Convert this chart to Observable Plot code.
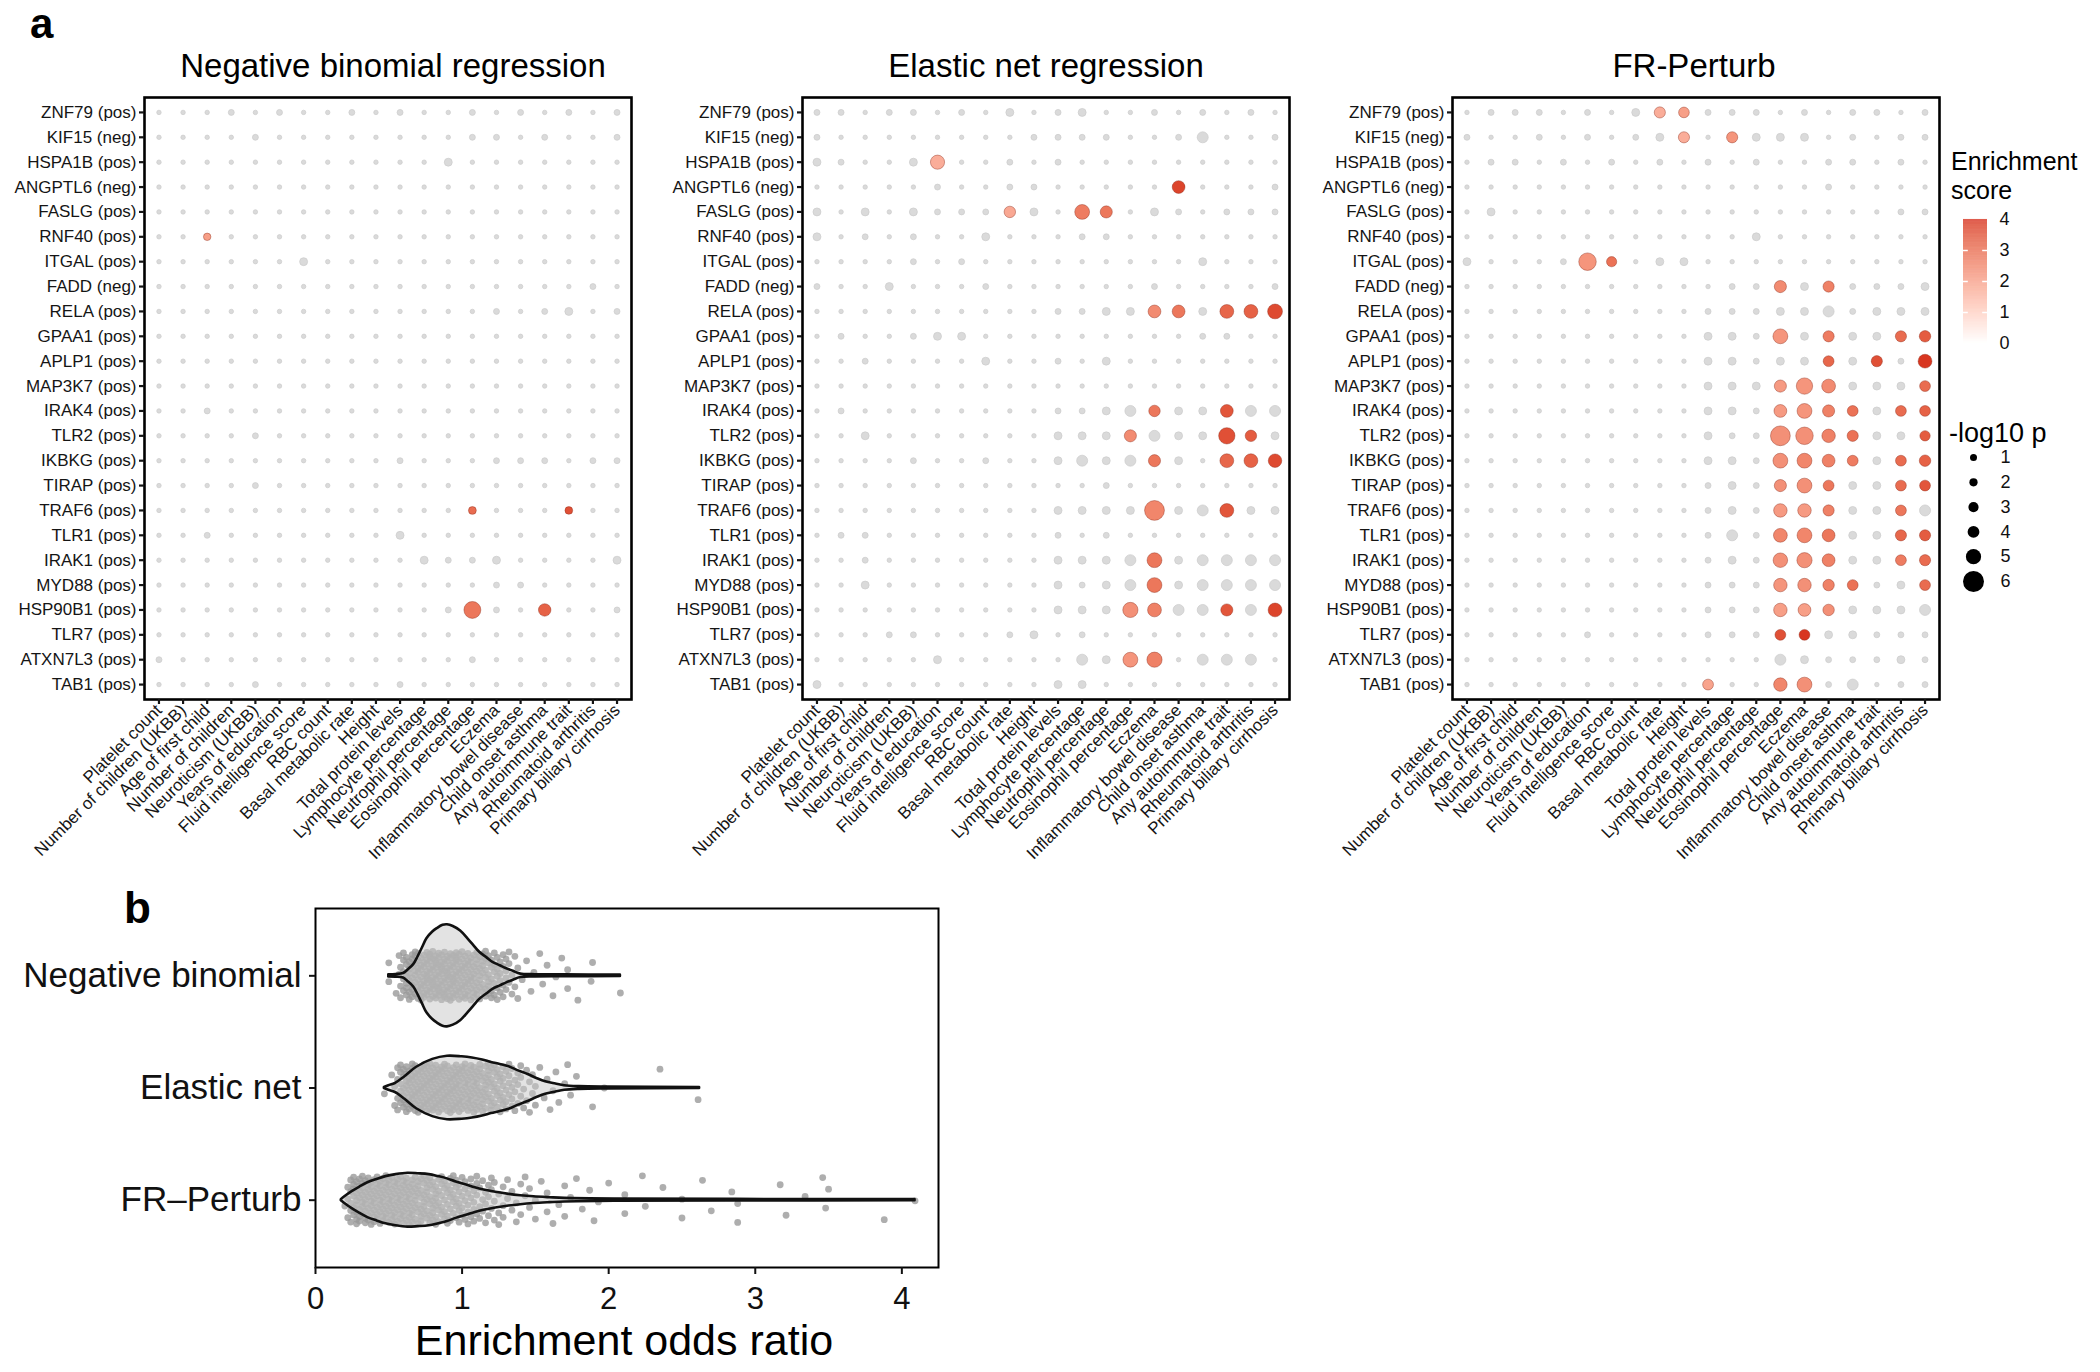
<!DOCTYPE html>
<html><head><meta charset="utf-8">
<script src="https://cdn.jsdelivr.net/npm/d3@7"></script>
<script src="https://cdn.jsdelivr.net/npm/@observablehq/plot@0.6"></script>
<style>
html,body{margin:0;padding:0;background:#fff;}
#root{position:relative;width:2100px;height:1372px;overflow:hidden;background:#fff;font-family:"Liberation Sans",Arial,Helvetica,sans-serif;color:#111;}
#root svg{position:absolute;}
</style></head><body><div id="root"></div>
<script>
// ---------- DATA ----------
const genes = ["ZNF79 (pos)","KIF15 (neg)","HSPA1B (pos)","ANGPTL6 (neg)","FASLG (pos)","RNF40 (pos)","ITGAL (pos)","FADD (neg)","RELA (pos)","GPAA1 (pos)","APLP1 (pos)","MAP3K7 (pos)","IRAK4 (pos)","TLR2 (pos)","IKBKG (pos)","TIRAP (pos)","TRAF6 (pos)","TLR1 (pos)","IRAK1 (pos)","MYD88 (pos)","HSP90B1 (pos)","TLR7 (pos)","ATXN7L3 (pos)","TAB1 (pos)"];
const traits = ["Platelet count","Number of children (UKBB)","Age of first child","Number of children","Neuroticism (UKBB)","Years of education","Fluid intelligence score","RBC count","Basal metabolic rate","Height","Total protein levels","Lymphocyte percentage","Neutrophil percentage","Eosinophil percentage","Eczema","Inflammatory bowel disease","Child onset asthma","Any autoimmune trait","Rheumatoid arthritis","Primary biliary cirrhosis"];
const panelTitles = ["Negative binomial regression","Elastic net regression","FR-Perturb"];

// -log10 p of the grey (non-significant) dots, as levels 0..4
const greyLevels = [0.15, 0.65, 1.8, 3.5, 4.5];

const nbGrey = ["00010100101001010101","00001000000001101001","00000000000020000000","00000000000000000000","00000000000000000000","00000000000000000000","00000020000000000000","00000000000000000010","00000000000000101201","00000000000000000000","00000000000000000000","00000000000000000000","00100000000000000000","00001000000000000000","00000000001000111011","00001000000000000000","00000000000000000000","00100000002000000000","00000000000211200002","00000000000000110000","00000000000010100001","00000000000000000000","10000000000001000000","00001000001000000000"];
const enGrey = ["11011010201200101010","10000000011110013001","21002000101000000000","00000100110000000001","20202111020000210111","20101002000110000000","00001010000000002000","10020001000000100001","00000000001122002000","01001220000000001100","00100002001020000000","00000000000000000000","01000000001123022033","00200000002220322002","00001001002323020000","00000000000010000000","00000000002222023022","01100000001010000000","00100000002223023333","00200000002123023333","00000000002220033030","00011000120100000000","00000200000320003330","20000000002200000000"];
const frGrey = ["01110102001110101101","10010101200022201011","01101010101010011010","00000000000000010000","02000000000000000011","00000000000020000000","20001000220000000000","00000000000110201112","00000000001112231222","00000000002210202200","00000000002212202010","00000000002220002220","00000000002210000200","00000000002110000220","00000000002210000200","00000000001210002200","00000000001210002203","00000000001310002200","00000000001210002200","00000000001110000120","00000000001110002223","00000100001110022111","00000000000003211121","00000000000000013011"];

// significant cells: [gene, trait column (1-based), enrichment score, -log10 p]
const nbSig = [["RNF40 (pos)",3,2.0,1.4],["TRAF6 (pos)",14,3.0,1.7],["TRAF6 (pos)",18,3.5,1.6],["HSP90B1 (pos)",14,2.8,5.3],["HSP90B1 (pos)",17,3.2,4.2]];
const enSig = [["HSPA1B (pos)",6,1.7,4.7],["ANGPTL6 (neg)",16,3.7,4.3],["FASLG (pos)",9,1.8,3.8],["FASLG (pos)",12,2.7,4.9],["FASLG (pos)",13,2.8,4.1],
["RELA (pos)",15,2.4,4.3],["RELA (pos)",16,2.8,4.3],["RELA (pos)",18,3.1,4.6],["RELA (pos)",19,3.2,4.6],["RELA (pos)",20,3.6,4.9],
["IRAK4 (pos)",15,2.8,3.8],["IRAK4 (pos)",18,3.4,4.3],["TLR2 (pos)",14,2.4,4.1],["TLR2 (pos)",18,3.5,5.2],["TLR2 (pos)",19,3.3,3.8],
["IKBKG (pos)",15,2.8,4.1],["IKBKG (pos)",18,3.1,4.6],["IKBKG (pos)",19,3.2,4.6],["IKBKG (pos)",20,3.6,4.5],
["TRAF6 (pos)",15,2.5,5.8],["TRAF6 (pos)",18,3.4,4.6],["IRAK1 (pos)",15,2.8,4.9],["MYD88 (pos)",15,2.8,4.9],
["HSP90B1 (pos)",14,2.3,5.0],["HSP90B1 (pos)",15,2.6,4.6],["HSP90B1 (pos)",18,3.4,4.1],["HSP90B1 (pos)",20,3.7,4.6],
["ATXN7L3 (pos)",14,2.2,4.9],["ATXN7L3 (pos)",15,2.6,5.0]];
const frSig = [["ZNF79 (pos)",9,1.7,3.6],["ZNF79 (pos)",10,2.0,3.3],["KIF15 (neg)",10,1.7,3.6],["KIF15 (neg)",12,2.2,3.6],
["ITGAL (pos)",6,2.2,5.4],["ITGAL (pos)",7,2.9,3.0],["FADD (neg)",14,2.4,4.1],["FADD (neg)",16,2.6,3.6],
["GPAA1 (pos)",14,2.2,4.9],["GPAA1 (pos)",16,2.7,3.6],["GPAA1 (pos)",19,3.0,3.6],["GPAA1 (pos)",20,3.3,3.8],
["APLP1 (pos)",16,3.1,3.4],["APLP1 (pos)",18,3.5,3.6],["APLP1 (pos)",20,3.9,4.6],
["MAP3K7 (pos)",14,2.1,4.1],["MAP3K7 (pos)",15,2.2,5.2],["MAP3K7 (pos)",16,2.4,4.6],["MAP3K7 (pos)",20,3.0,3.4],
["IRAK4 (pos)",14,2.1,4.3],["IRAK4 (pos)",15,2.2,4.9],["IRAK4 (pos)",16,2.6,4.1],["IRAK4 (pos)",17,2.9,3.4],["IRAK4 (pos)",19,3.0,3.4],["IRAK4 (pos)",20,3.2,3.4],
["TLR2 (pos)",14,2.3,5.8],["TLR2 (pos)",15,2.3,5.4],["TLR2 (pos)",16,2.6,4.5],["TLR2 (pos)",17,2.9,3.6],["TLR2 (pos)",20,3.3,3.1],
["IKBKG (pos)",14,2.3,4.9],["IKBKG (pos)",15,2.5,4.9],["IKBKG (pos)",16,2.6,4.3],["IKBKG (pos)",17,2.7,3.4],["IKBKG (pos)",19,3.0,3.4],["IKBKG (pos)",20,3.2,3.8],
["TIRAP (pos)",14,2.3,4.1],["TIRAP (pos)",15,2.3,4.9],["TIRAP (pos)",16,2.8,3.4],["TIRAP (pos)",19,3.0,3.4],["TIRAP (pos)",20,3.4,3.4],
["TRAF6 (pos)",14,2.1,4.5],["TRAF6 (pos)",15,2.1,4.5],["TRAF6 (pos)",16,2.6,3.6],["TRAF6 (pos)",19,2.8,3.4],
["TLR1 (pos)",14,2.5,4.6],["TLR1 (pos)",15,2.5,4.9],["TLR1 (pos)",16,2.8,4.3],["TLR1 (pos)",19,3.1,3.6],["TLR1 (pos)",20,3.3,3.6],
["IRAK1 (pos)",14,2.3,4.8],["IRAK1 (pos)",15,2.3,5.0],["IRAK1 (pos)",16,2.6,4.3],["IRAK1 (pos)",19,2.7,3.4],["IRAK1 (pos)",20,3.0,3.6],
["MYD88 (pos)",14,2.2,4.5],["MYD88 (pos)",15,2.3,4.5],["MYD88 (pos)",16,2.6,3.8],["MYD88 (pos)",17,2.9,3.4],["MYD88 (pos)",20,3.0,3.4],
["HSP90B1 (pos)",14,2.0,4.5],["HSP90B1 (pos)",15,2.0,4.3],["HSP90B1 (pos)",16,2.3,3.8],
["TLR7 (pos)",14,3.5,3.4],["TLR7 (pos)",15,3.9,3.4],
["TAB1 (pos)",11,1.9,3.4],["TAB1 (pos)",14,2.5,4.5],["TAB1 (pos)",15,2.3,4.9]];

const scoreTicks = [0,1,2,3,4];
const sizeBreaks = [1,2,3,4,5,6];

// panel b
const groups = ["Negative binomial","Elastic net","FR\u2013Perturb"];
const oddsTicks = [0,1,2,3,4];
// odds ratios: value*count
const nbOdds = "0.50*2 0.55*1 0.57*2 0.58*3 0.60*5 0.62*6 0.64*6 0.66*7 0.68*7 0.70*8 0.72*8 0.74*8 0.76*9 0.78*9 0.80*9 0.82*9 0.84*9 0.86*9 0.88*9 0.90*9 0.92*9 0.94*9 0.96*9 0.98*8 1.00*8 1.02*8 1.04*8 1.06*7 1.08*7 1.10*7 1.12*6 1.14*6 1.16*6 1.18*6 1.20*5 1.22*5 1.24*5 1.26*4 1.28*4 1.30*4 1.32*3 1.34*2 1.36*2 1.38*2 1.41*1 1.44*1 1.47*1 1.49*1 1.53*1 1.55*1 1.58*1 1.62*1 1.64*1 1.68*1 1.72*2 1.79*1 1.88*1 1.89*1 2.08*1";
const enOdds = "0.47*1 0.52*1 0.54*2 0.56*4 0.58*5 0.60*6 0.62*7 0.64*7 0.66*8 0.68*8 0.70*8 0.72*8 0.74*8 0.76*8 0.78*8 0.80*8 0.82*8 0.84*8 0.86*8 0.88*8 0.90*8 0.92*8 0.94*8 0.96*8 0.98*8 1.00*7 1.02*7 1.04*7 1.06*7 1.08*7 1.10*7 1.12*6 1.14*6 1.16*6 1.18*6 1.20*6 1.22*5 1.24*5 1.26*5 1.28*5 1.30*4 1.32*4 1.34*4 1.36*3 1.38*3 1.40*3 1.42*2 1.44*2 1.46*2 1.48*2 1.50*2 1.53*1 1.56*1 1.58*1 1.60*1 1.62*1 1.64*1 1.66*1 1.70*1 1.72*1 1.74*1 1.78*1 1.89*1 1.97*1 2.35*1 2.61*1";
const frOdds = "0.20*1 0.22*3 0.24*5 0.26*6 0.28*7 0.30*7 0.32*7 0.34*7 0.36*7 0.38*7 0.40*7 0.42*7 0.44*7 0.46*7 0.48*7 0.50*7 0.52*7 0.54*7 0.56*7 0.58*7 0.60*7 0.62*7 0.64*7 0.66*7 0.68*6 0.70*6 0.72*6 0.74*6 0.76*6 0.78*6 0.80*6 0.82*6 0.84*5 0.86*5 0.88*5 0.90*5 0.92*5 0.94*5 0.96*5 0.98*5 1.00*4 1.02*4 1.04*4 1.06*4 1.08*4 1.10*4 1.12*3 1.14*3 1.16*3 1.18*3 1.20*3 1.22*3 1.25*3 1.28*3 1.31*2 1.34*2 1.37*2 1.40*2 1.43*2 1.46*2 1.50*2 1.54*1 1.58*2 1.62*1 1.66*1 1.70*2 1.74*1 1.78*1 1.82*1 1.87*1 1.90*1 1.93*1 2.00*1 2.11*2 2.23*1 2.25*1 2.37*1 2.50*2 2.64*1 2.70*1 2.84*1 2.88*2 3.17*1 3.21*1 3.34*1 3.46*1 3.48*1 3.50*1 3.88*1 4.09*1";
// violin outlines: odds ratio positions and half-widths (category units)
const nbViolinX = [0.50,0.55,0.60,0.63,0.67,0.70,0.73,0.76,0.80,0.83,0.87,0.90,0.94,0.99,1.04,1.08,1.12,1.17,1.21,1.26,1.30,1.35,1.40,1.50,1.70,2.08];
const nbViolinW = [0.01,0.012,0.02,0.05,0.10,0.17,0.25,0.33,0.39,0.42,0.45,0.455,0.44,0.40,0.33,0.27,0.21,0.16,0.12,0.09,0.065,0.04,0.015,0.01,0.008,0.006];
const enViolinX = [0.47,0.50,0.545,0.61,0.69,0.80,0.90,1.00,1.07,1.14,1.20,1.26,1.32,1.38,1.45,1.51,1.57,1.64,1.70,1.80,2.00,2.62];
const enViolinW = [0.005,0.02,0.04,0.10,0.185,0.255,0.283,0.278,0.268,0.25,0.228,0.21,0.19,0.155,0.12,0.085,0.055,0.035,0.02,0.012,0.008,0.005];
const frViolinX = [0.176,0.20,0.25,0.30,0.357,0.42,0.48,0.55,0.63,0.70,0.776,0.84,0.90,0.96,1.03,1.09,1.15,1.23,1.32,1.40,1.49,1.60,1.70,2.04,2.87,4.09];
const frViolinW = [0.005,0.03,0.076,0.115,0.155,0.185,0.21,0.228,0.24,0.236,0.228,0.21,0.19,0.162,0.135,0.11,0.09,0.07,0.052,0.04,0.03,0.022,0.016,0.01,0.007,0.005];

// ---------- BUILD ----------
const root = document.getElementById("root");
const FONT = '"Liberation Sans", Arial, Helvetica, sans-serif';
const rScale = {type: "linear", domain: [0,1,2,3,4,5,6], range: [2.0,3.5,4.1,5.1,5.9,7.6,10.5]};
const colorScale = {type: "linear", domain: [0,4], range: ["#ffffff","#d62e1b"], interpolate: "lab"};
const intFmt = d => String(Math.round(d));

function place(el, left, top) { el.style.left = left + "px"; el.style.top = top + "px"; root.appendChild(el); }

function cells(greyRows, sig) {
  const key = new Set(sig.map(d => d[0] + "|" + d[1]));
  const grey = [];
  genes.forEach((g, i) => {
    for (let c = 0; c < traits.length; c++) {
      if (!key.has(g + "|" + (c + 1))) grey.push({gene: g, trait: traits[c], logp: greyLevels[+greyRows[i][c]]});
    }
  });
  const colored = sig.map(([g, c, s, p]) => ({gene: g, trait: traits[c - 1], score: s, logp: p}));
  return {grey, colored};
}

const FW = 487, FH = 602, FTOP = 97, ML = 144;
function dotPanel(greyRows, sig, frameLeft) {
  const {grey, colored} = cells(greyRows, sig);
  const chart = Plot.plot({
    width: ML + FW + 6, height: 4 + FH + 240,
    marginLeft: ML, marginRight: 6, marginTop: 4, marginBottom: 240,
    x: {type: "point", domain: traits, padding: 0.6, round: false},
    y: {type: "point", domain: genes, padding: 0.6, round: false},
    r: rScale,
    color: colorScale,
    style: {fontFamily: FONT, fontSize: "17px", color: "#151515", background: "transparent", overflow: "visible"},
    marks: [
      Plot.dot(grey, {x: "trait", y: "gene", r: "logp", fill: "#dadada", stroke: "#cccccc", strokeWidth: 0.7}),
      Plot.dot(colored, {x: "trait", y: "gene", r: "logp", fill: "score", stroke: "#8a2a18", strokeOpacity: 0.45, strokeWidth: 0.9}),
      Plot.frame({stroke: "#000", strokeWidth: 2.6}),
      Plot.axisX({tickRotate: -45, tickSize: 5, tickPadding: 3, strokeWidth: 2.2, fontSize: 17, label: null}),
      Plot.axisY({tickSize: 5, tickPadding: 3, strokeWidth: 2.2, fontSize: 17, label: null})
    ]
  });
  place(chart, frameLeft - ML, FTOP - 4);
}
dotPanel(nbGrey, nbSig, 144);
dotPanel(enGrey, enSig, 802);
dotPanel(frGrey, frSig, 1452);

// colour legend
const ramp = d3.range(0, 4, 0.02);
const cLeg = Plot.plot({
  width: 80, height: 144, marginLeft: 0, marginRight: 56, marginTop: 10, marginBottom: 10,
  x: {domain: [0, 1], axis: null},
  y: {domain: [0, 4]},
  color: colorScale,
  style: {fontFamily: FONT, fontSize: "18px", color: "#111", background: "transparent", overflow: "visible"},
  marks: [
    Plot.rect(ramp, {x1: 0, x2: 1, y1: d => d, y2: d => d + 0.021, fill: d => d + 0.01}),
    Plot.ruleY([1,2,3], {x1: 0, x2: 0.2, stroke: "#fff", strokeWidth: 1.5}),
    Plot.ruleY([1,2,3], {x1: 0.8, x2: 1, stroke: "#fff", strokeWidth: 1.5}),
    Plot.axisY({anchor: "right", ticks: scoreTicks, tickFormat: intFmt, tickSize: 0, tickPadding: 12, fontSize: 18, label: null})
  ]
});
place(cLeg, 1963, 209);

// size legend
const sLeg = Plot.plot({
  width: 80, height: 148, marginLeft: 0, marginRight: 34, marginTop: 12, marginBottom: 12,
  x: {domain: [0, 1], axis: null},
  y: {domain: [6, 1]},
  r: rScale,
  style: {fontFamily: FONT, fontSize: "18px", color: "#111", background: "transparent", overflow: "visible"},
  marks: [
    Plot.dot(sizeBreaks, {x: 0.5, y: d => d, r: d => d, fill: "#000"}),
    Plot.axisY({anchor: "right", ticks: sizeBreaks, tickFormat: intFmt, tickSize: 0, tickPadding: 4, fontSize: 18, label: null})
  ]
});
place(sLeg, 1950, 445);

// panel b
function expand(str) {
  const out = [];
  for (const tok of str.trim().split(/\s+/)) {
    const [v, c] = tok.split("*");
    for (let k = 0; k < (+c || 1); k++) out.push(+v);
  }
  return out;
}
const pts = [];
[nbOdds, enOdds, frOdds].forEach((s, g) => {
  expand(s).forEach((v, i) => {
    const j = (((i + 1) * 0.6180339887) % 1 - 0.5) * 0.44; // vertical jitter (layout only)
    pts.push({g, v, yj: g + j});
  });
});
const violin = [];
[[nbViolinX, nbViolinW], [enViolinX, enViolinW], [frViolinX, frViolinW]].forEach(([X, W], g) => {
  X.forEach((x, i) => violin.push({g, x, lo: g - W[i], hi: g + W[i]}));
});
const pb = Plot.plot({
  width: 942, height: 466, marginLeft: 315, marginRight: 4, marginTop: 2, marginBottom: 105,
  x: {domain: [0, 4.25]},
  y: {domain: [2.6, -0.6]},
  style: {fontFamily: FONT, fontSize: "31px", color: "#111", background: "transparent", overflow: "visible"},
  marks: [
    Plot.dot(pts, {x: "v", y: "yj", r: 3.4, fill: "#9a9a9a", fillOpacity: 0.8}),
    Plot.areaY(violin, {x: "x", y1: "lo", y2: "hi", z: "g", fill: "#c8c8c8", fillOpacity: 0.5, stroke: "#111", strokeWidth: 2.6, curve: "catmull-rom"}),
    Plot.frame({stroke: "#000", strokeWidth: 2}),
    Plot.axisX({ticks: oddsTicks, tickFormat: intFmt, tickSize: 7, tickPadding: 12, strokeWidth: 2, fontSize: 31, label: null}),
    Plot.axisY({ticks: [0,1,2], tickFormat: i => groups[i], tickSize: 6, tickPadding: 8, strokeWidth: 2, fontSize: 35, label: null})
  ]
});
place(pb, 0, 906);

// text annotations
const NS = "http://www.w3.org/2000/svg";
const ov = document.createElementNS(NS, "svg");
ov.setAttribute("width", 2100); ov.setAttribute("height", 1372);
ov.style.left = "0px"; ov.style.top = "0px"; ov.style.pointerEvents = "none";
ov.setAttribute("font-family", FONT);
function txt(x, y, s, size, opts = {}) {
  const t = document.createElementNS(NS, "text");
  t.setAttribute("x", x); t.setAttribute("y", y); t.setAttribute("font-size", size);
  t.setAttribute("fill", "#000");
  if (opts.anchor) t.setAttribute("text-anchor", opts.anchor);
  if (opts.bold) t.setAttribute("font-weight", "bold");
  t.textContent = s; ov.appendChild(t);
}
txt(30, 38, "a", 42, {bold: true});
txt(393, 77, panelTitles[0], 33, {anchor: "middle"});
txt(1046, 77, panelTitles[1], 33, {anchor: "middle"});
txt(1694, 77, panelTitles[2], 33, {anchor: "middle"});
txt(1951, 170, "Enrichment", 25);
txt(1951, 199, "score", 25);
txt(1949, 442, "-log10 p", 27);
txt(124, 923, "b", 44, {bold: true});
txt(624, 1355, "Enrichment odds ratio", 43, {anchor: "middle"});
root.appendChild(ov);
</script></body></html>
